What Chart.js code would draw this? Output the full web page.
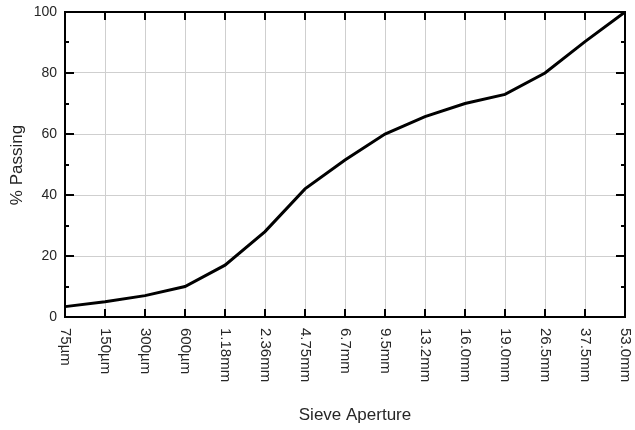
<!DOCTYPE html>
<html>
<head>
<meta charset="utf-8">
<script src="https://cdn.jsdelivr.net/npm/chart.js@4"></script>
<style>
html,body{margin:0;padding:0;background:#fff;}
#wrap{width:635px;height:430px;position:relative;}
</style>
</head>
<body>
<div id="wrap"><canvas id="c" width="635" height="430"></canvas></div>
<script>
const categories = ['75µm','150µm','300µm','600µm','1.18mm','2.36mm','4.75mm','6.7mm','9.5mm','13.2mm','16.0mm','19.0mm','26.5mm','37.5mm','53.0mm'];
const passing = [3.4, 5, 7, 10, 17, 28, 42, 51.5, 60, 65.7, 70, 73, 80, 90.3, 100];
const yMajorTicks = [0, 20, 40, 60, 80, 100];
const yMinorTicks = [10, 30, 50, 70, 90];
const xTitle = 'Sieve Aperture';
const yTitle = '% Passing';

const FONT = '"Liberation Sans", Arial, sans-serif';
const TEXT = '#262626';

const framePlugin = {
  id: 'frame',
  afterDraw(chart) {
    const {ctx, chartArea: a, scales: {x, y}} = chart;
    ctx.save();
    // frame
    ctx.strokeStyle = '#000';
    ctx.lineWidth = 2;
    ctx.strokeRect(a.left, a.top, a.right - a.left, a.bottom - a.top);
    // x ticks top & bottom
    ctx.lineWidth = 2;
    categories.forEach((c, i) => {
      const px = Math.round(x.getPixelForValue(i));
      ctx.beginPath();
      ctx.moveTo(px, a.bottom); ctx.lineTo(px, a.bottom - 8);
      ctx.moveTo(px, a.top); ctx.lineTo(px, a.top + 8);
      ctx.stroke();
    });
    // y ticks
    yMajorTicks.forEach(v => {
      const py = Math.round(y.getPixelForValue(v));
      ctx.beginPath();
      ctx.moveTo(a.left, py); ctx.lineTo(a.left + 9, py);
      ctx.moveTo(a.right, py); ctx.lineTo(a.right - 9, py);
      ctx.stroke();
    });
    yMinorTicks.forEach(v => {
      const py = Math.round(y.getPixelForValue(v));
      ctx.beginPath();
      ctx.moveTo(a.left, py); ctx.lineTo(a.left + 4, py);
      ctx.moveTo(a.right, py); ctx.lineTo(a.right - 4, py);
      ctx.stroke();
    });
    // y labels
    ctx.fillStyle = TEXT;
    ctx.font = '14px ' + FONT;
    ctx.textAlign = 'right';
    ctx.textBaseline = 'middle';
    yMajorTicks.forEach(v => {
      ctx.fillText(String(v), a.left - 8, y.getPixelForValue(v));
    });
    // x labels rotated top-to-bottom
    ctx.font = '15px ' + FONT;
    ctx.textAlign = 'left';
    ctx.textBaseline = 'middle';
    categories.forEach((c, i) => {
      const px = x.getPixelForValue(i);
      ctx.save();
      ctx.translate(px, a.bottom + 11);
      ctx.rotate(Math.PI / 2);
      ctx.fillText(c, 0, 0);
      ctx.restore();
    });
    // titles
    ctx.font = '17px ' + FONT;
    ctx.textAlign = 'center';
    ctx.textBaseline = 'middle';
    ctx.fillText(xTitle, (a.left + a.right) / 2 + 10, 415);
    ctx.save();
    ctx.translate(17, 165);
    ctx.rotate(-Math.PI / 2);
    ctx.fillText(yTitle, 0, 0);
    ctx.restore();
    ctx.restore();
  }
};

new Chart(document.getElementById('c'), {
  type: 'line',
  data: {
    labels: categories,
    datasets: [{
      data: passing,
      borderColor: '#000',
      borderWidth: 3,
      pointRadius: 0,
      tension: 0,
      fill: false
    }]
  },
  options: {
    responsive: false,
    animation: false,
    devicePixelRatio: 1,
    layout: {padding: {left: 65, top: 12, right: 10, bottom: 113}},
    plugins: {legend: {display: false}, tooltip: {enabled: false}},
    scales: {
      x: {
        type: 'category',
        offset: false,
        grid: {color: '#cfcfcf', lineWidth: 1, drawTicks: false, tickLength: 0},
        border: {display: false},
        ticks: {display: false}
      },
      y: {
        min: 0, max: 100,
        afterBuildTicks(scale) { scale.ticks = yMajorTicks.map(v => ({value: v})); },
        grid: {color: '#cfcfcf', lineWidth: 1, drawTicks: false, tickLength: 0},
        border: {display: false},
        ticks: {display: false}
      }
    }
  },
  plugins: [framePlugin]
});
</script>
</body>
</html>
